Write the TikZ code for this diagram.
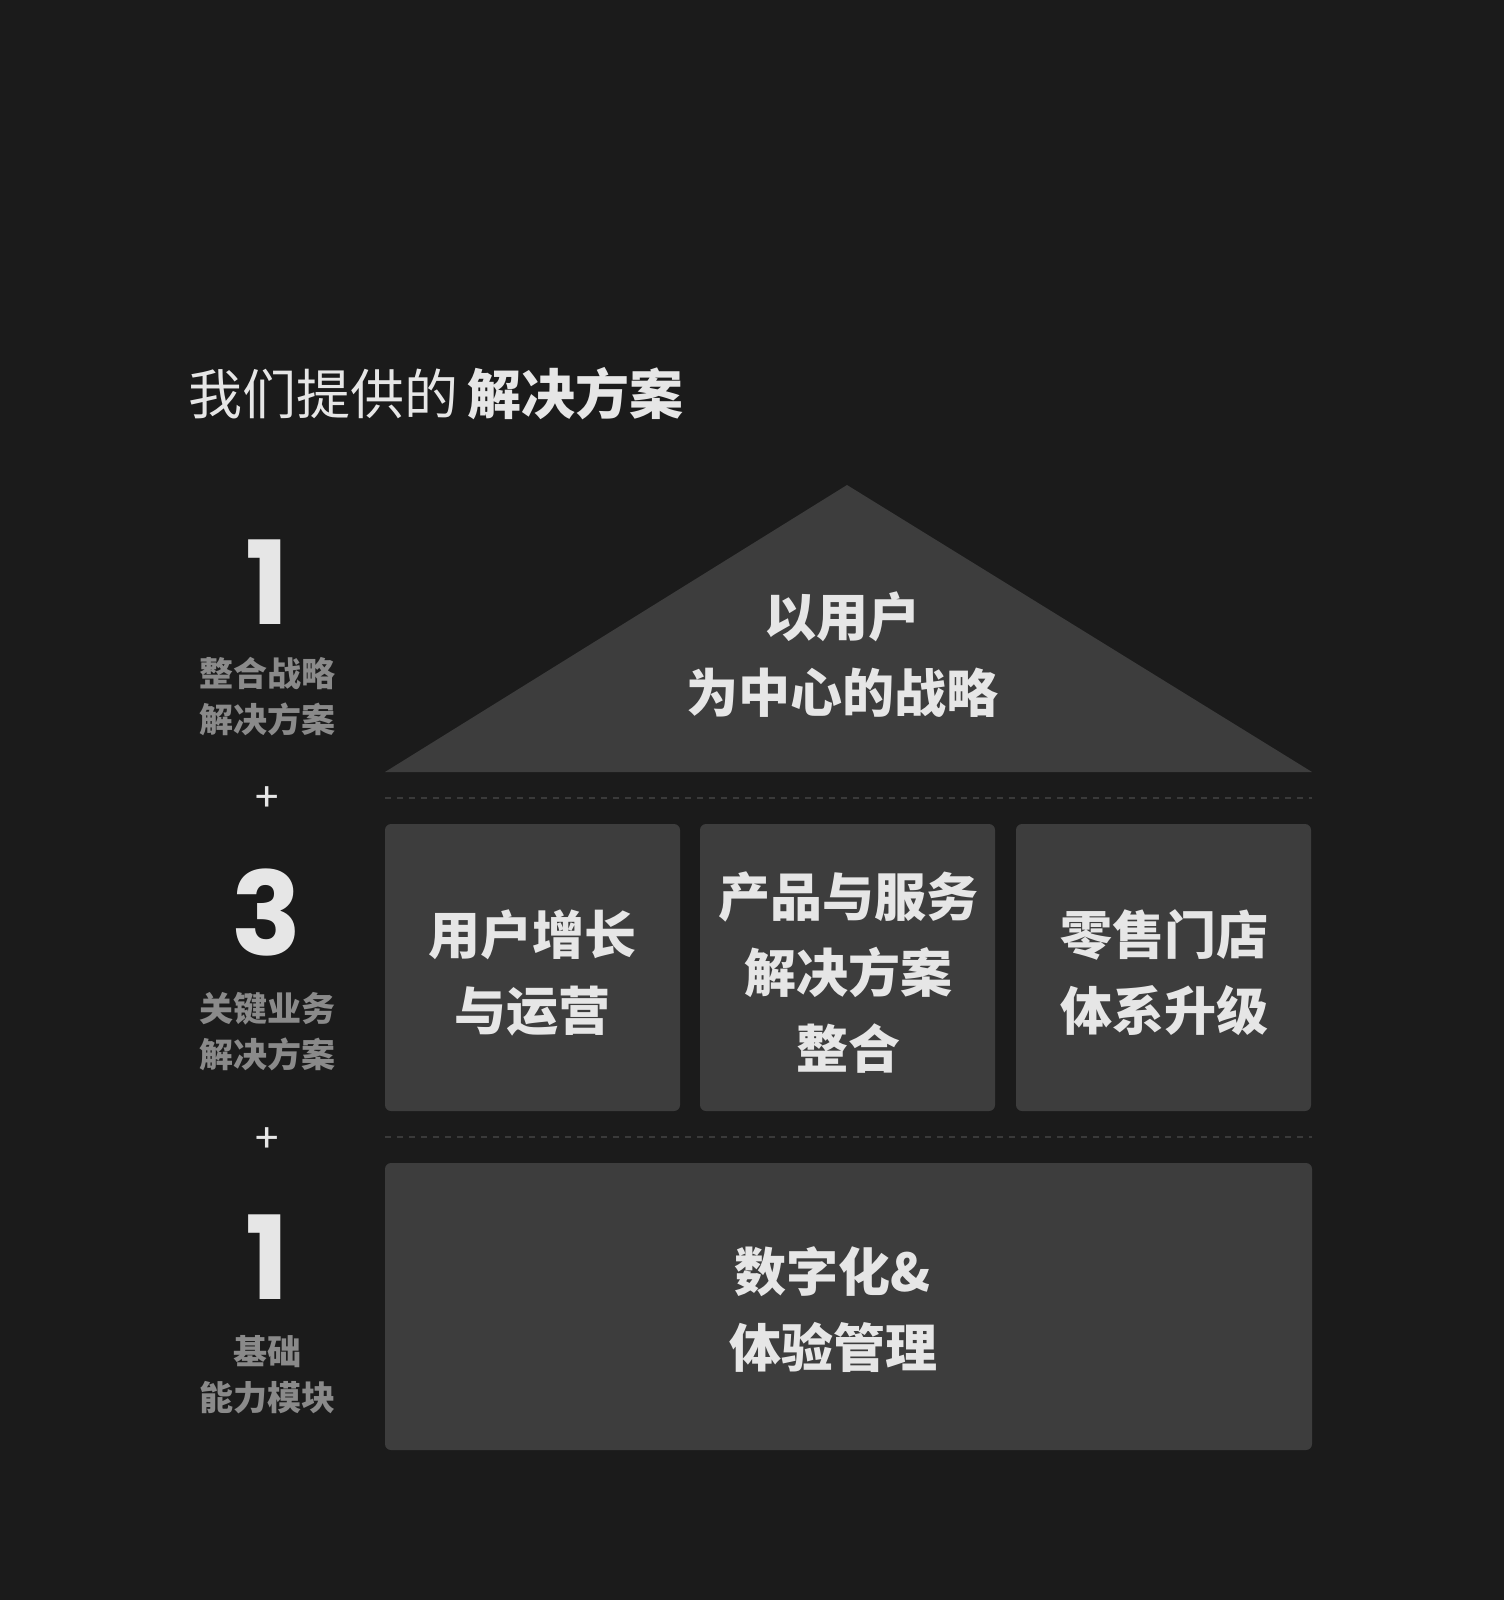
\documentclass[tikz,border=0pt]{standalone}
\usepackage{fontspec}
\newfontfamily\cjk{Noto Sans CJK SC}
\newfontfamily\numf{Poppins}
\definecolor{bg}{HTML}{1B1B1B}
\definecolor{panel}{HTML}{3D3D3D}
\definecolor{txt}{HTML}{E6E6E6}
\definecolor{sub}{HTML}{8A8A8A}
\definecolor{dash}{HTML}{3A3A3A}
\tikzset{
 boxst/.style={fill=panel,rounded corners=3pt},
 btxt/.style={text=txt,font=\cjk\bfseries\fontsize{26}{34}\selectfont,align=center,inner sep=0},
 subt/.style={text=sub,font=\cjk\bfseries\fontsize{17}{23}\selectfont,align=center,inner sep=0},
 bign/.style={text=txt,font=\numf\bfseries\fontsize{58}{60}\selectfont,inner sep=0},
 plus/.style={text=txt,font=\numf\fontsize{20}{20}\selectfont,inner sep=0},
 dline/.style={draw=dash,dashed,line width=0.6pt}
}
\begin{document}
\begin{tikzpicture}[x=0.5pt,y=-0.5pt]
\fill[bg] (0,0) rectangle (1504,1600);
\useasboundingbox (0,0) rectangle (1504,1600);
\node[anchor=west,text=txt,inner sep=0,font=\cjk\fontsize{27}{30}\selectfont] (title) at (188,394) {我们提供的\,{\bfseries 解决方案}};
\fill[panel] (847,485) -- (1312,772) -- (385,772) -- cycle;
\node[btxt] (tri) at (842,655) {以用户\\[4pt]为中心的战略};
\coordinate (d1a) at (385,798); \coordinate (d1b) at (1312,798);
\draw[dline] (d1a) -- (d1b);
\coordinate (d2a) at (385,1137); \coordinate (d2b) at (1312,1137);
\draw[dline] (d2a) -- (d2b);
\fill[boxst] (385,824) rectangle (680,1111);
\fill[boxst] (700,824) rectangle (995,1111);
\fill[boxst] (1016,824) rectangle (1311,1111);
\fill[boxst] (385,1163) rectangle (1312,1450);
\node[btxt] (b1) at (532,973) {用户增长\\[4pt]与运营};
\node[btxt] (b2) at (848,973) {产品与服务\\[4pt]解决方案\\[4pt]整合};
\node[btxt] (b3) at (1164,973) {零售门店\\[4pt]体系升级};
\node[btxt] (b4) at (833,1310) {数字化\&\\[4pt]体验管理};
\node[bign] (n1) at (267,582) {1};
\node[subt] (s1) at (267,697) {整合战略\\解决方案};
\node[plus] (p1) at (267,799) {+};
\node[bign] (n2) at (267,913) {3};
\node[subt] (s2) at (267,1032) {关键业务\\解决方案};
\node[plus] (p2) at (267,1140) {+};
\node[bign] (n3) at (267,1257) {1};
\node[subt] (s3) at (267,1375) {基础\\能力模块};
\end{tikzpicture}
\end{document}
